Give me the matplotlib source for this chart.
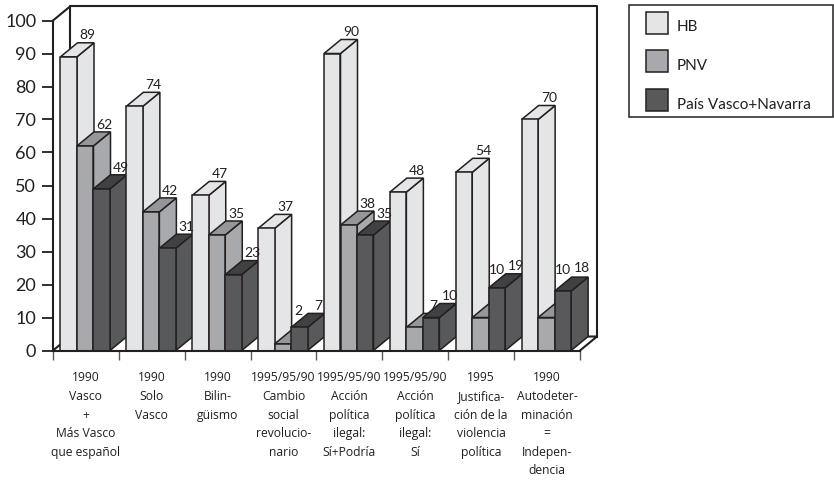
import matplotlib
matplotlib.use("Agg")
import matplotlib.pyplot as plt
import numpy as np
from matplotlib.patches import Patch, Rectangle

categories = [
    "1990\nVasco\n+\nMás Vasco\nque español",
    "1990\nSolo\nVasco",
    "1990\nBilin-\ngüismo",
    "1995/95/90\nCambio\nsocial\nrevolucio-\nnario",
    "1995/95/90\nAcción\npolítica\nilegal:\nSí+Podría",
    "1995/95/90\nAcción\npolítica\nilegal:\nSí",
    "1995\nJustifica-\nción de la\nviolencia\npolítica",
    "1990\nAutodeter-\nminación\n=\nIndepen-\ndencia",
]
hb = [89, 74, 47, 37, 90, 48, 54, 70]
pnv = [62, 42, 35, 2, 38, 7, 10, 10]
pais = [49, 31, 23, 7, 35, 10, 19, 18]
series_names = ["HB", "PNV", "País Vasco+Navarra"]
y_ticks = list(range(0, 101, 10))

W, H = 834, 480
INK = "#231f20"
FRONT = ["#e4e5e7", "#a7a9ac", "#58595b"]
TOP = ["#e4e5e7", "#949699", "#414042"]
SIDE = ["#e4e5e7", "#a7a9ac", "#58595b"]
LW = 1.1

plt.rcParams["font.family"] = ["Lato", "DejaVu Sans"]

fig = plt.figure(figsize=(W / 100, H / 100), dpi=100)
# plot box in pixels: x 53..580, y 350.5..20.5
ax = fig.add_axes([53 / W, 1 - 350.5 / H, (580 - 53) / W, 330 / H])
ax.set_xlim(0, 8)
ax.set_ylim(0, 100)
ax.patch.set_visible(False)

px_x = 8 / (580 - 53)
px_y = 100 / 330
DX = 17 * px_x
DY = 14 * px_y
BAR_W = 16.5 * px_x
OFFSET = 7.5 * px_x

# labels moved clear of the neighbouring bar: (series, group) -> (px left, px up)
label_shift = {(1, 3): (4, 12), (1, 6): (3, 26), (1, 7): (2, 26), (2, 7): (0, 2)}

for s in ("top", "right"):
    ax.spines[s].set_visible(False)
for s in ("left", "bottom"):
    ax.spines[s].set_linewidth(1.5)
    ax.spines[s].set_color(INK)
    ax.spines[s].set_zorder(50)

# 3-D box: back wall and floor
wall = dict(color=INK, lw=1.5, clip_on=False, zorder=1, solid_capstyle="projecting")
ax.plot([DX, DX, 8 + DX, 8 + DX], [0 + DY, 100 + DY, 100 + DY, DY], **wall)
ax.plot([0, DX], [100, 100 + DY], **wall)
ax.plot([0, DX, 8 + DX, 8], [0, DY, DY, 0], **wall)

# bars
z = 2
for g in range(len(categories)):
    for k, vals in enumerate((hb, pnv, pais)):
        v = vals[g]
        x0 = g + OFFSET + k * BAR_W
        x1 = x0 + BAR_W
        ec = dict(edgecolor=INK, linewidth=LW, joinstyle="miter", clip_on=False)
        ax.fill([x1, x1 + DX, x1 + DX, x1], [0, DY, v + DY, v],
                facecolor=SIDE[k], zorder=z, **ec)
        ax.fill([x0, x0 + DX, x1 + DX, x1], [v, v + DY, v + DY, v],
                facecolor=TOP[k], zorder=z, **ec)
        ax.bar(x0, v, width=BAR_W, align="edge", facecolor=FRONT[k], zorder=z,
               clip_on=False, **{k2: ec[k2] for k2 in ("edgecolor", "linewidth")})
        sx, sy = label_shift.get((k, g), (0, 0))
        ax.text(x0 + BAR_W / 2 + DX + (2 - sx) * px_x,
                v + DY + 1.0 + sy * px_y, str(v),
                ha="center", va="baseline", fontsize=10, color=INK, zorder=100)
        z += 1

# ticks
ax.set_yticks(y_ticks)
ax.tick_params(axis="y", length=8, width=1.3, color=INK, labelsize=13, pad=4,
               labelcolor=INK)
ax.set_xticks(np.arange(0, 9))
ax.set_xticklabels([])
ax.tick_params(axis="x", which="major", length=6.5, width=1.0, color="#58595b")
ax.set_xticks(np.arange(8) + 0.5, categories, minor=True, linespacing=1.56,
              family=["Open Sans", "DejaVu Sans"])
ax.tick_params(axis="x", which="minor", length=0, pad=15, labelsize=8.7,
               labelcolor=INK)

# legend
fig.add_artist(Rectangle((628.5 / W, 1 - 117 / H), 204 / W, 112 / H,
                         transform=fig.transFigure, facecolor="white",
                         edgecolor=INK, linewidth=1.1))
handles = [Patch(facecolor=c, edgecolor=INK, linewidth=1.1) for c in FRONT]
leg = fig.legend(handles, series_names, loc="upper left",
                 bbox_to_anchor=(646 / W, 1 - 11.5 / H),
                 bbox_transform=fig.transFigure, frameon=False, borderpad=0,
                 borderaxespad=0, fontsize=11, handlelength=1.44,
                 handleheight=1.84, labelspacing=1.11, handletextpad=0.59,
                 labelcolor=INK)
for t in leg.get_texts():
    t.set_y(-4)

fig.savefig("out.png", dpi=100)
